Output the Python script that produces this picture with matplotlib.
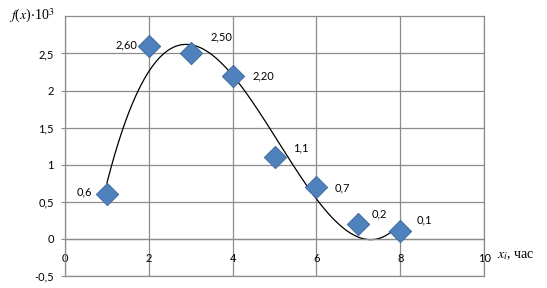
import numpy as np
import matplotlib.pyplot as plt

plt.rcParams['mathtext.fontset'] = 'stix'
plt.rcParams['font.family'] = ['Lato', 'DejaVu Sans']

# data points
x = [1, 2, 3, 4, 5, 6, 7, 8]
y = [0.6, 2.6, 2.5, 2.2, 1.1, 0.7, 0.2, 0.1]
labels = ['0,6', '2,60', '2,50', '2,20', '1,1', '0,7', '0,2', '0,1']
# label offsets in points (dx, dy)
offsets = [(-16, 2), (-16, 1), (22, 12), (22, 0), (19, 7), (19, -1), (15, 7), (17, 8)]

yticks = [-0.5, 0, 0.5, 1, 1.5, 2, 2.5]
ytick_labels = ['-0,5', '0', '0,5', '1', '1,5', '2', '2,5']
xticks = [0, 2, 4, 6, 8, 10]

# polynomial trend line (order 3), like in Excel
coef = np.polyfit(x, y, 3)
xs = np.linspace(1, 8, 300)
ys = np.polyval(coef, xs)

fig = plt.figure(figsize=(5.47, 2.88), dpi=100)
ax = fig.add_axes([0.1188, 0.0417, 0.7662, 0.9013])

ax.set_xlim(0, 10)
ax.set_ylim(-0.5, 3)
ax.grid(True, color='#8c8c8c', linewidth=0.9)
ax.set_axisbelow(True)
for s in ax.spines.values():
    s.set_color('#8c8c8c')
    s.set_linewidth(0.9)
ax.spines['bottom'].set_position(('data', 0))

ax.set_yticks(yticks)
ax.set_yticklabels(ytick_labels)
ax.set_xticks(xticks)
ax.set_xticklabels([str(t) for t in xticks])
ax.tick_params(axis='y', length=3, color='#8c8c8c', labelsize=8, pad=5)
ax.tick_params(axis='x', length=0, labelsize=8, pad=10)
ax.axhline(-0.5, color='#8c8c8c', linewidth=0.9, clip_on=False)

ax.plot(xs, ys, color='black', linewidth=0.9, zorder=2)
ax.scatter(x, y, marker='D', s=130, color='#4f81bd', edgecolor='#3a6496', linewidth=0.6, zorder=3)

for xi, yi, lab, (dx, dy) in zip(x, y, labels, offsets):
    ax.annotate(lab, (xi, yi), xytext=(dx, dy), textcoords='offset points',
                ha='center', va='center', fontsize=8)

ax.annotate(r'$f$($x$)$\cdot$10$^3$', xy=(0, 3), xytext=(-24, 0), textcoords='offset points',
            xycoords='data', ha='center', va='center', fontsize=10, family='Liberation Serif',
            annotation_clip=False)
ax.annotate(r'$x_i$, час', xy=(10, 0), xytext=(23, -12), textcoords='offset points',
            ha='center', va='center', fontsize=10, family='Liberation Serif',
            annotation_clip=False)

fig.savefig('out.png', dpi=100)
